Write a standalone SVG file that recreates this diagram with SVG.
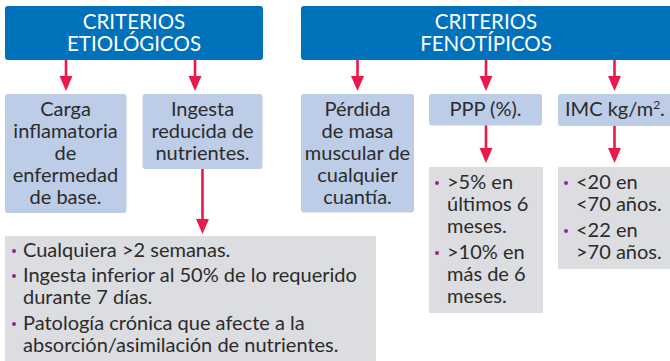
<svg xmlns="http://www.w3.org/2000/svg" width="670" height="361" viewBox="0 0 670 361">
<style>
.hdr{fill:#0071bb}
.bl{fill:#bdcce7}
.gr{fill:#dcdde0}
.ht{font-family:Lato,"Liberation Sans",sans-serif;font-size:20.5px;fill:#ffffff;text-anchor:middle}
.t{font-family:Lato,"Liberation Sans",sans-serif;font-size:20px;fill:#2b2b2b}
.c{text-anchor:middle}
.dot{fill:#8e2a8e}
.ar{stroke:#e8194b;stroke-width:2.6;fill:none;marker-end:url(#ah)}
</style>
<defs>
<marker id="ah" markerUnits="userSpaceOnUse" markerWidth="16" markerHeight="14" refX="6" refY="6.5" orient="auto" viewBox="0 0 16 14">
<path d="M0,0 L15,6.5 L0,13 Z" fill="#e8194b"/>
</marker>
</defs>
<g id="connectors">
<line class="ar" x1="66" y1="60" x2="66" y2="82"/>
<line class="ar" x1="195" y1="60" x2="195" y2="82"/>
<line class="ar" x1="357.5" y1="60" x2="357.5" y2="82"/>
<line class="ar" x1="486" y1="60" x2="486" y2="82"/>
<line class="ar" x1="614.5" y1="60" x2="614.5" y2="82"/>
<line class="ar" x1="202.5" y1="169" x2="202.5" y2="225"/>
<line class="ar" x1="486" y1="125" x2="486" y2="154"/>
<line class="ar" x1="614.5" y1="126" x2="614.5" y2="154"/>
</g>
<g id="hdr-etiologicos">
<rect class="hdr" x="5" y="6" width="258" height="54" rx="3"/>
<text class="ht" x="134" y="28.5">CRITERIOS</text>
<text class="ht" x="134" y="51">ETIOLÓGICOS</text>
</g>
<g id="hdr-fenotipicos">
<rect class="hdr" x="301" y="6" width="375" height="54" rx="3"/>
<text class="ht" x="486" y="28.5">CRITERIOS</text>
<text class="ht" x="486" y="51">FENOTÍPICOS</text>
</g>
<g id="carga">
<rect class="bl" x="5" y="94" width="121.5" height="119" rx="3"/>
<text class="t c" x="65.5" y="116">Carga</text>
<text class="t c" x="65.5" y="138">inflamatoria</text>
<text class="t c" x="65.5" y="160">de</text>
<text class="t c" x="65.5" y="182">enfermedad</text>
<text class="t c" x="65.5" y="204">de base.</text>
</g>
<g id="ingesta">
<rect class="bl" x="142.5" y="94" width="120" height="75" rx="3"/>
<text class="t c" x="202.5" y="116">Ingesta</text>
<text class="t c" x="202.5" y="138">reducida de</text>
<text class="t c" x="202.5" y="160">nutrientes.</text>
</g>
<g id="perdida">
<rect class="bl" x="301" y="94" width="113" height="118.5" rx="3"/>
<text class="t c" x="357.5" y="116">Pérdida</text>
<text class="t c" x="357.5" y="138">de masa</text>
<text class="t c" x="357.5" y="160">muscular de</text>
<text class="t c" x="357.5" y="182">cualquier</text>
<text class="t c" x="357.5" y="204">cuantía.</text>
</g>
<g id="ppp">
<rect class="bl" x="429" y="94" width="113" height="31.5" rx="3"/>
<text class="t c" x="485.5" y="116">PPP (%).</text>
</g>
<g id="imc">
<rect class="bl" x="558" y="94" width="118" height="32" rx="3"/>
<text class="t" x="565" y="116">IMC kg/m<tspan font-size="12" dy="-7">2</tspan><tspan dy="7">.</tspan></text>
</g>
<g id="ingesta-detalle">
<rect class="gr" x="5" y="236" width="371" height="130"/>
<circle class="dot" cx="14" cy="251" r="2"/>
<text class="t" x="23" y="257">Cualquiera &gt;2 semanas.</text>
<circle class="dot" cx="14" cy="276" r="2"/>
<text class="t" x="23" y="282">Ingesta inferior al 50% de lo requerido</text>
<text class="t" x="23" y="304">durante 7 días.</text>
<circle class="dot" cx="14" cy="324" r="2"/>
<text class="t" x="23" y="330">Patología crónica que afecte a la</text>
<text class="t" x="23" y="352">absorción/asimilación de nutrientes.</text>
</g>
<g id="ppp-detalle">
<rect class="gr" x="429" y="167" width="114" height="146"/>
<circle class="dot" cx="437" cy="183" r="2"/>
<text class="t" x="447" y="189">&gt;5% en</text>
<text class="t" x="447" y="211">últimos 6</text>
<text class="t" x="447" y="233">meses.</text>
<circle class="dot" cx="437" cy="253" r="2"/>
<text class="t" x="447" y="259">&gt;10% en</text>
<text class="t" x="447" y="281">más de 6</text>
<text class="t" x="447" y="303">meses.</text>
</g>
<g id="imc-detalle">
<rect class="gr" x="558" y="167" width="118" height="102"/>
<circle class="dot" cx="566" cy="183" r="2"/>
<text class="t" x="576" y="189">&lt;20 en</text>
<text class="t" x="576" y="211">&lt;70 años.</text>
<circle class="dot" cx="566" cy="231" r="2"/>
<text class="t" x="576" y="237">&lt;22 en</text>
<text class="t" x="576" y="259">&gt;70 años.</text>
</g>
</svg>
